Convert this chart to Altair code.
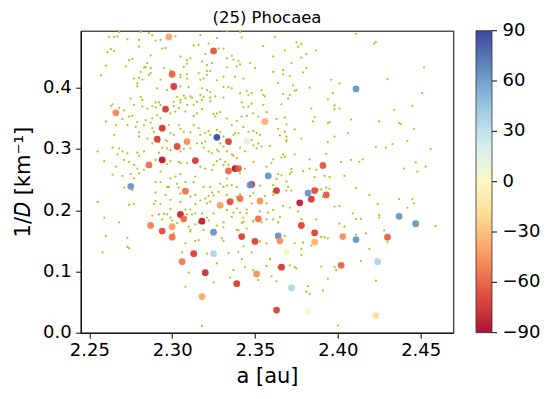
import altair as alt
import pandas as pd

TITLE = "(25) Phocaea"
X_TICKS = [2.25, 2.30, 2.35, 2.40, 2.45]
Y_TICKS = [0.0, 0.1, 0.2, 0.3, 0.4]
CB_TICKS = [-90, -60, -30, 0, 30, 60, 90]

# background family members (a [au], 1/D [km^-1])
bg_upper_left = [
    (2.268,0.491),(2.281,0.491),(2.286,0.489),(2.288,0.486),(2.262,0.483),(2.265,0.483),(2.267,0.484),
    (2.302,0.484),(2.273,0.479),(2.280,0.478),(2.290,0.477),(2.293,0.478),(2.317,0.486),(2.327,0.481),
    (2.333,0.492),(2.341,0.491),(2.342,0.482),(2.280,0.467),(2.294,0.464),(2.296,0.465),(2.313,0.469),
    (2.316,0.470),(2.322,0.472),(2.263,0.463),(2.265,0.460),(2.261,0.458),(2.287,0.453),(2.305,0.451),
    (2.311,0.448),(2.309,0.445),(2.320,0.455),(2.331,0.464),(2.328,0.464),(2.333,0.448),(2.336,0.452),
    (2.337,0.446),(2.340,0.444),(2.355,0.468),(2.274,0.445),(2.276,0.447),(2.285,0.440),(2.284,0.434),
    (2.287,0.432),(2.283,0.433),(2.281,0.426),(2.272,0.435),(2.260,0.436),(2.295,0.432),(2.299,0.428),
    (2.307,0.434),(2.309,0.439),(2.318,0.443),(2.321,0.437),(2.324,0.440),(2.321,0.427),(2.323,0.427),
    (2.333,0.433),(2.339,0.435),(2.341,0.438),(2.347,0.440),(2.350,0.432),(2.257,0.420),(2.277,0.415),
    (2.280,0.416),(2.282,0.413),(2.287,0.424),(2.286,0.421),(2.305,0.421),(2.305,0.417),(2.309,0.422),
    (2.309,0.415),(2.316,0.424),(2.321,0.421),(2.319,0.415),(2.317,0.413),(2.327,0.412),(2.331,0.418),
    (2.338,0.418),(2.343,0.415),(2.279,0.407),(2.279,0.402),(2.293,0.413),(2.297,0.396),(2.291,0.399),
    (2.305,0.402),(2.310,0.401),(2.318,0.399),(2.321,0.396),(2.323,0.393),(2.323,0.384),(2.331,0.401),
    (2.334,0.401),(2.336,0.399),(2.341,0.391),(2.345,0.395),(2.346,0.388),(2.348,0.391),(2.354,0.396),
    (2.356,0.386),(2.355,0.388),(2.275,0.382),(2.281,0.385),(2.282,0.380),(2.292,0.376),(2.303,0.385),
    (2.305,0.380),(2.307,0.387),(2.308,0.383),(2.311,0.386),(2.312,0.384),(2.317,0.388),(2.319,0.385),
    (2.318,0.380),(2.323,0.378),(2.326,0.386),(2.331,0.384),(2.342,0.376),(2.343,0.368),(2.348,0.374),
    (2.264,0.373),(2.263,0.370),(2.268,0.367),(2.271,0.363),(2.277,0.372),(2.282,0.369),(2.285,0.366),
    (2.288,0.370),(2.290,0.376),(2.290,0.368),(2.293,0.372),(2.301,0.377),(2.301,0.370),(2.304,0.367),
    (2.305,0.376),(2.309,0.372),(2.313,0.372),(2.315,0.377),(2.318,0.365),(2.325,0.357),(2.327,0.358),
    (2.326,0.353),(2.329,0.360),(2.315,0.358),(2.313,0.354),(2.308,0.361),(2.302,0.361),(2.299,0.358),
    (2.293,0.350),(2.291,0.355),(2.288,0.350),(2.287,0.343),(2.284,0.347),(2.283,0.339),(2.279,0.344),
    (2.276,0.354),(2.274,0.353),(2.270,0.349),(2.273,0.339),(2.266,0.339),(2.260,0.345),(2.267,0.360),
    (2.333,0.350),(2.336,0.339),(2.339,0.346),(2.342,0.353),(2.345,0.354),(2.346,0.369),(2.349,0.358),
    (2.352,0.353),(2.357,0.360),(2.355,0.372),(2.278,0.336),(2.280,0.327),(2.280,0.320),(2.288,0.334),
    (2.289,0.328),(2.295,0.336),(2.298,0.339),(2.299,0.326),(2.301,0.323),(2.304,0.339),(2.305,0.333),
    (2.307,0.328),(2.311,0.327),(2.313,0.339),(2.316,0.334),(2.317,0.323),(2.320,0.326),(2.322,0.329),
    (2.323,0.323),(2.327,0.331),(2.329,0.328),(2.331,0.320),(2.333,0.315),(2.335,0.308),(2.337,0.323),
    (2.338,0.326),(2.340,0.326),(2.343,0.336),(2.346,0.328),(2.349,0.329),(2.351,0.326),(2.353,0.323),
    (2.265,0.323),(2.296,0.315),(2.297,0.313),(2.292,0.311),(2.288,0.309),(2.285,0.317),(2.318,0.309),
    (2.320,0.312),(2.315,0.309),(2.329,0.309),(2.331,0.304),(2.348,0.315),(2.349,0.306),(2.352,0.309),
    (2.255,0.296),(2.264,0.302),(2.268,0.301),(2.267,0.291),(2.270,0.296),(2.273,0.293),(2.279,0.294),
    (2.280,0.289),(2.283,0.296),(2.292,0.294),(2.294,0.302),(2.297,0.301),(2.299,0.298),(2.305,0.296),
    (2.307,0.300),(2.311,0.301),(2.319,0.302),(2.322,0.296),(2.324,0.293),(2.327,0.299),(2.328,0.296),
    (2.333,0.296),(2.336,0.291),(2.337,0.289),(2.339,0.285),(2.341,0.302),(2.344,0.296),(2.351,0.301),
    (2.354,0.304),(2.259,0.280),(2.266,0.271),(2.271,0.282),(2.274,0.279),(2.277,0.274),(2.279,0.268),
    (2.283,0.266),(2.287,0.271),(2.290,0.282),(2.293,0.263),(2.297,0.275),(2.299,0.280),(2.304,0.279),
    (2.305,0.277),(2.309,0.277),(2.317,0.271),(2.320,0.268),(2.324,0.266),(2.325,0.274),(2.327,0.280),
    (2.329,0.283),(2.331,0.274),(2.332,0.279),(2.334,0.274),(2.341,0.260),(2.344,0.268),(2.349,0.279),
    (2.357,0.271),(2.264,0.258),(2.270,0.256),(2.275,0.259),(2.277,0.252),(2.280,0.260),(2.305,0.259),
    (2.302,0.255),(2.299,0.252),(2.314,0.255),(2.333,0.252),
]
bg_upper_right = [
    (2.362,0.483),(2.411,0.488),(2.422,0.472),(2.423,0.475),(2.375,0.474),(2.378,0.471),(2.376,0.467),
    (2.368,0.461),(2.387,0.461),(2.361,0.451),(2.378,0.449),(2.381,0.455),(2.372,0.440),(2.452,0.433),
    (2.381,0.432),(2.367,0.429),(2.379,0.425),(2.361,0.426),(2.367,0.422),(2.371,0.419),(2.430,0.414),
    (2.396,0.413),(2.364,0.408),(2.401,0.407),(2.373,0.404),(2.383,0.400),(2.375,0.396),(2.374,0.395),
    (2.397,0.391),(2.451,0.391),(2.367,0.390),(2.371,0.388),(2.370,0.382),(2.394,0.381),(2.366,0.373),
    (2.398,0.371),(2.445,0.370),(2.384,0.366),(2.398,0.365),(2.401,0.366),(2.434,0.364),(2.386,0.352),
    (2.368,0.351),(2.363,0.349),(2.408,0.348),(2.385,0.345),(2.425,0.345),(2.394,0.342),(2.395,0.344),
    (2.437,0.342),(2.438,0.341),(2.369,0.340),(2.364,0.333),(2.374,0.332),(2.446,0.333),(2.368,0.328),
    (2.406,0.326),(2.365,0.322),(2.369,0.320),(2.398,0.320),(2.378,0.317),(2.369,0.315),(2.369,0.312),
    (2.442,0.313),(2.394,0.311),(2.359,0.305),(2.433,0.308),(2.423,0.303),(2.429,0.302),(2.456,0.300),
    (2.367,0.291),(2.374,0.291),(2.393,0.292),(2.366,0.286),(2.368,0.287),(2.361,0.283),(2.360,0.277),
    (2.383,0.283),(2.402,0.279),(2.408,0.282),(2.413,0.279),(2.415,0.283),(2.447,0.278),(2.372,0.267),
    (2.379,0.264),(2.383,0.268),(2.387,0.266),(2.440,0.268),(2.453,0.271),(2.448,0.263),(2.366,0.257),
    (2.371,0.259),(2.372,0.262),(2.364,0.259),(2.392,0.256),(2.395,0.254),(2.404,0.256),(2.386,0.254),
    (2.363,0.251),
]
bg_lower_left = [
    (2.271,0.237),(2.276,0.233),(2.290,0.246),(2.293,0.246),(2.297,0.238),(2.298,0.238),(2.303,0.243),
    (2.304,0.237),(2.308,0.246),(2.313,0.246),(2.319,0.238),(2.323,0.238),(2.329,0.243),(2.331,0.238),
    (2.333,0.240),(2.336,0.241),(2.339,0.238),(2.353,0.240),(2.290,0.229),(2.296,0.225),(2.305,0.213),
    (2.299,0.217),(2.305,0.227),(2.311,0.222),(2.314,0.225),(2.314,0.210),(2.317,0.216),(2.320,0.219),
    (2.322,0.223),(2.324,0.229),(2.325,0.224),(2.328,0.230),(2.321,0.211),(2.323,0.214),(2.325,0.195),
    (2.333,0.225),(2.339,0.222),(2.341,0.226),(2.347,0.223),(2.349,0.228),(2.348,0.211),(2.357,0.211),
    (2.356,0.223),(2.353,0.198),(2.255,0.213),(2.259,0.188),(2.268,0.180),(2.260,0.158),(2.258,0.131),
    (2.273,0.155),(2.273,0.140),(2.274,0.138),(2.277,0.210),(2.274,0.209),(2.289,0.210),(2.293,0.210),
    (2.290,0.215),(2.299,0.202),(2.288,0.191),(2.292,0.193),(2.295,0.194),(2.294,0.185),(2.297,0.193),
    (2.299,0.188),(2.300,0.183),(2.303,0.179),(2.301,0.162),(2.308,0.201),(2.309,0.193),(2.311,0.201),
    (2.312,0.193),(2.314,0.195),(2.318,0.195),(2.321,0.188),(2.322,0.183),(2.310,0.173),(2.311,0.165),
    (2.311,0.168),(2.314,0.177),(2.316,0.180),(2.319,0.168),(2.327,0.175),(2.331,0.172),(2.331,0.180),
    (2.333,0.200),(2.336,0.189),(2.337,0.196),(2.339,0.203),(2.341,0.196),(2.343,0.188),(2.345,0.201),
    (2.345,0.195),(2.343,0.181),(2.342,0.179),(2.339,0.168),(2.340,0.167),(2.345,0.170),(2.349,0.183),
    (2.349,0.181),(2.354,0.180),(2.357,0.185),(2.358,0.196),(2.330,0.154),(2.331,0.150),(2.314,0.150),
    (2.316,0.151),(2.308,0.146),(2.306,0.131),(2.321,0.129),(2.327,0.113),(2.334,0.130),(2.340,0.132),
    (2.343,0.141),(2.348,0.131),(2.353,0.149),(2.357,0.146),(2.359,0.121),(2.342,0.120),(2.344,0.107),
    (2.349,0.102),(2.337,0.102),(2.335,0.090),(2.352,0.086),(2.357,0.109),(2.310,0.098),(2.308,0.075),
    (2.325,0.082),(2.318,0.011),
]
bg_lower_right = [
    (2.369,0.247),(2.361,0.241),(2.370,0.238),(2.372,0.232),(2.369,0.232),(2.361,0.230),(2.367,0.207),
    (2.371,0.204),(2.376,0.198),(2.361,0.200),(2.361,0.225),(2.388,0.234),(2.390,0.234),(2.393,0.237),
    (2.395,0.235),(2.391,0.222),(2.411,0.236),(2.419,0.225),(2.398,0.206),(2.401,0.207),(2.409,0.195),
    (2.411,0.186),(2.414,0.186),(2.425,0.192),(2.425,0.188),(2.424,0.210),(2.437,0.218),(2.442,0.204),
    (2.445,0.218),(2.446,0.211),(2.459,0.174),(2.361,0.185),(2.365,0.189),(2.364,0.180),(2.378,0.185),
    (2.387,0.185),(2.401,0.178),(2.404,0.173),(2.417,0.162),(2.428,0.167),(2.430,0.148),(2.411,0.160),
    (2.390,0.156),(2.392,0.156),(2.394,0.154),(2.374,0.146),(2.379,0.147),(2.378,0.137),(2.378,0.127),
    (2.384,0.142),(2.368,0.158),(2.419,0.137),(2.414,0.117),(2.390,0.108),(2.398,0.107),(2.399,0.102),
    (2.364,0.107),(2.371,0.110),(2.374,0.107),(2.375,0.105),(2.359,0.120),(2.360,0.092),(2.363,0.084),
    (2.394,0.088),(2.423,0.085),(2.382,0.076),(2.381,0.067),(2.383,0.063),(2.391,0.069),(2.400,0.012),
]

# coloured asteroids: a [au], 1/D [km^-1], colour value (-90..90)
big_a = [
    2.298, 2.325, 2.300, 2.301, 2.266, 2.296, 2.356, 2.294, 2.327, 2.291, 2.309, 2.334, 2.345, 2.303,
    2.294, 2.314, 2.286, 2.334, 2.338, 2.340, 2.358, 2.275, 2.308, 2.348, 2.347, 2.363, 2.329, 2.335,
    2.341, 2.353, 2.305, 2.307, 2.287, 2.294, 2.300, 2.300, 2.318, 2.325, 2.352, 2.342, 2.350, 2.364,
    2.365, 2.313, 2.325, 2.306, 2.320, 2.351, 2.339, 2.318, 2.363, 2.382, 2.386, 2.384, 2.393, 2.377,
    2.437, 2.447, 2.378, 2.386, 2.386, 2.403, 2.411, 2.430, 2.369, 2.366, 2.402, 2.424, 2.372, 2.382,
    2.423, 2.411, 2.391,
]
big_invd = [
    0.483, 0.460, 0.422, 0.402, 0.359, 0.365, 0.345, 0.334, 0.319, 0.316, 0.312, 0.312, 0.313, 0.304,
    0.282, 0.281, 0.274, 0.264, 0.268, 0.268, 0.256, 0.239, 0.231, 0.242, 0.241, 0.232, 0.208, 0.214,
    0.219, 0.215, 0.193, 0.186, 0.175, 0.166, 0.173, 0.156, 0.182, 0.164, 0.186, 0.157, 0.149, 0.158,
    0.150, 0.129, 0.129, 0.116, 0.098, 0.096, 0.080, 0.059, 0.037, 0.228, 0.232, 0.218, 0.225, 0.212,
    0.190, 0.178, 0.175, 0.163, 0.148, 0.157, 0.152, 0.156, 0.132, 0.107, 0.110, 0.116, 0.073, 0.035,
    0.028, 0.398, 0.273,
]
big_angle = [
    -38, -62, -60, -72, -48, -70, -35, -72, 85, -70, -45, -68, 18, -67,
    -82, -72, -55, -57, -85, -62, 62, 62, -55, -72, 62, -72, -40, -65,
    -55, -45, -78, -57, -50, -65, -40, -55, -82, 62, -55, -70, -68, 62,
    -45, -70, 36, -52, -75, -45, -70, -38, -70, 62, -65, -72, -62, -82,
    62, 62, -68, -70, -35, -45, 62, -60, 3, -72, -57, 36, 36, 3,
    -18, 62, -62,
]

bg = pd.DataFrame(bg_upper_left + bg_upper_right + bg_lower_left + bg_lower_right,
                  columns=["a", "invd"])
big = pd.DataFrame({"a": big_a, "invd": big_invd, "angle": big_angle})
cb = pd.DataFrame({"tick": CB_TICKS})

W, H = 372.6, 302
CB_X = 395.3      # colour bar left edge, relative to plot origin
CB_W = 16

xscale = alt.Scale(domain=[2.2448, 2.4697], nice=False, zero=False)
yscale = alt.Scale(domain=[0, 0.4931], nice=False, zero=False)

xaxis = alt.Axis(values=X_TICKS, format=".2f", title="a [au]", grid=False,
                 tickSize=5.5, labelPadding=3.5, titlePadding=6,
                 labelFontSize=18, titleFontSize=21, labelFlush=False)
yaxis = alt.Axis(values=Y_TICKS, format=".1f", title="1/𝐷 [km⁻¹]", grid=False,
                 tickSize=5, labelPadding=4.5, titlePadding=9,
                 labelFontSize=18, titleFontSize=21, labelFlush=False)

bg_layer = alt.Chart(bg).mark_circle(size=5, color="#bcbd22", opacity=1).encode(
    x=alt.X("a:Q", scale=xscale, axis=xaxis),
    y=alt.Y("invd:Q", scale=yscale, axis=yaxis),
)

big_layer = alt.Chart(big).mark_circle(size=46, opacity=0.92).encode(
    x=alt.X("a:Q", scale=xscale, axis=xaxis),
    y=alt.Y("invd:Q", scale=yscale, axis=yaxis),
    color=alt.Color(
        "angle:Q",
        scale=alt.Scale(scheme="redyellowblue", domain=[-90, 90]),
        legend=alt.Legend(
            orient="none", legendX=CB_X, legendY=0, direction="vertical",
            gradientLength=H, gradientThickness=CB_W, values=CB_TICKS,
            title=None, labelExpr="''", labelFontSize=1,
            gradientStrokeColor="#222", gradientStrokeWidth=0.8,
            padding=0,
        ),
    ),
)

cbscale = alt.Scale(domain=[-90, 90], nice=False, zero=False)
cb_ticks = alt.Chart(cb).mark_rule(color="black", strokeWidth=1, clip=False).encode(
    x=alt.value(CB_X + CB_W),
    x2=alt.value(CB_X + CB_W + 5),
    y=alt.Y("tick:Q", scale=cbscale, axis=None),
)
cb_labels = alt.Chart(cb).mark_text(
    align="left", baseline="middle", fontSize=18, color="black", clip=False
).encode(
    x=alt.value(CB_X + CB_W + 10.5),
    y=alt.Y("tick:Q", scale=cbscale, axis=None),
    text=alt.Text("tick:Q", format="d"),
)

plot = alt.layer(bg_layer, big_layer)
chart = alt.layer(plot, cb_ticks, cb_labels).resolve_scale(y="independent").properties(
    width=W,
    height=H,
    title=alt.TitleParams(TITLE, fontSize=16.5, fontWeight="normal", color="black",
                          offset=6, dy=11, anchor="middle", frame="group"),
    autosize=alt.AutoSizeParams(type="none"),
    padding={"left": 72.7, "top": 22.7, "right": 91, "bottom": 58},
).configure(
    font="DejaVu Sans",
).configure_axis(
    domainColor="black", tickColor="black", labelColor="black", titleColor="black",
    titleFontWeight="normal", domainWidth=1, tickWidth=1,
).configure_view(
    stroke="black", strokeWidth=1,
)

chart.save("out.html", embed_options={"renderer": "svg", "actions": False})
